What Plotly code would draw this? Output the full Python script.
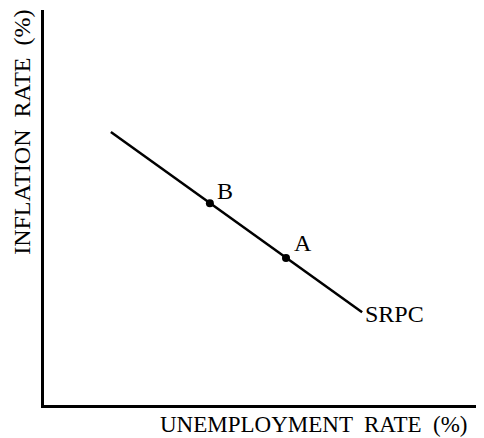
import plotly.graph_objects as go

# SRPC line endpoints (data units)
srpc_x = [1.52, 7.23]
srpc_y = [6.91, 2.35]

# Labeled points on the curve
point_names = ["B", "A"]
point_x = [3.77, 5.50]
point_y = [5.11, 3.72]

curve_label = "SRPC"
x_title = "UNEMPLOYMENT  RATE  (%)"
y_title = "INFLATION  RATE  (%)"

FONT = "Liberation Serif, Times New Roman, serif"

fig = go.Figure()
fig.add_trace(go.Scatter(x=srpc_x, y=srpc_y, mode="lines",
                         line=dict(color="black", width=2.5),
                         hoverinfo="skip", showlegend=False))
fig.add_trace(go.Scatter(x=point_x, y=point_y, mode="markers",
                         marker=dict(color="black", size=8),
                         hoverinfo="skip", showlegend=False))

annotations = []
offsets = {"B": (15, 12), "A": (17, 15)}
for n, px, py in zip(point_names, point_x, point_y):
    dx, dy = offsets[n]
    annotations.append(dict(x=px, y=py, xref="x", yref="y", text=n,
                            showarrow=False, xshift=dx, yshift=dy,
                            font=dict(family=FONT, size=24, color="black")))
annotations.append(dict(x=srpc_x[1], y=srpc_y[1], xref="x", yref="y",
                        text=curve_label, showarrow=False, xanchor="left",
                        xshift=1, yshift=-2,
                        font=dict(family=FONT, size=24, color="black")))
annotations.append(dict(x=0.968, y=-0.0506, xref="paper", yref="paper",
                        text=x_title, showarrow=False, xanchor="right",
                        yanchor="middle",
                        font=dict(family=FONT, size=23, color="black")))
annotations.append(dict(x=-0.05, y=0.689, xref="paper", yref="paper",
                        text=y_title, showarrow=False, textangle=-90,
                        xanchor="center", yanchor="middle",
                        font=dict(family=FONT, size=24, color="black")))

fig.update_layout(
    width=476, height=430,
    margin=dict(l=36, r=0, t=2, b=33),
    paper_bgcolor="white", plot_bgcolor="white",
    annotations=annotations,
    xaxis=dict(range=[0, 10], showgrid=False, zeroline=False,
               showticklabels=False, ticks="", showline=True,
               linecolor="black", linewidth=3, fixedrange=True),
    yaxis=dict(range=[0, 10], showgrid=False, zeroline=False,
               showticklabels=False, ticks="", showline=True,
               linecolor="black", linewidth=3, fixedrange=True),
)

fig.write_html("out.html", config={"displayModeBar": False})
